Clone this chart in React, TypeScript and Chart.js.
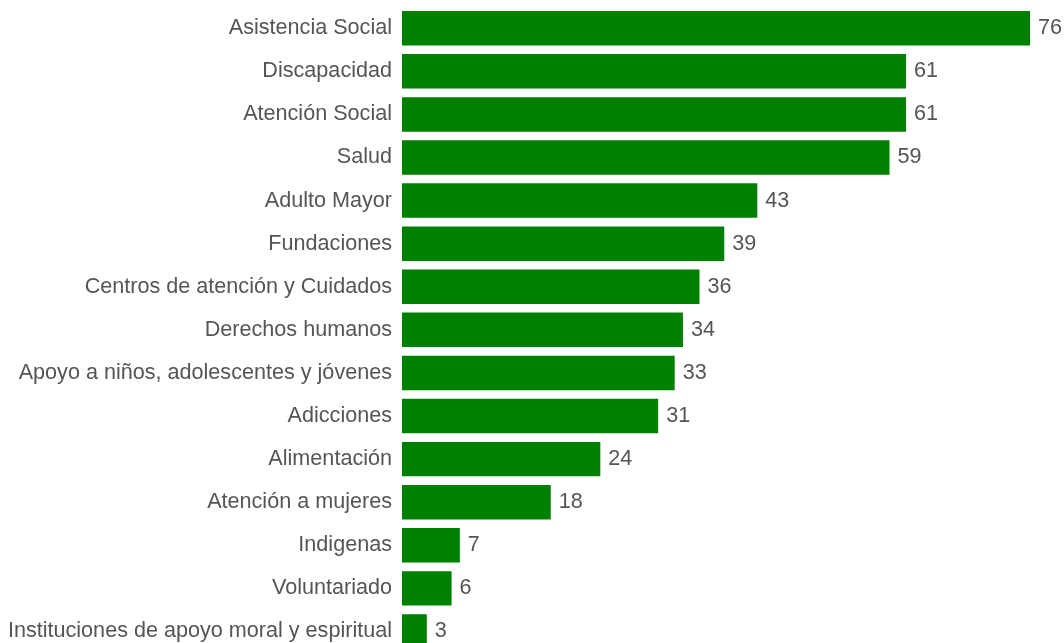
import React, { useEffect, useRef } from "react";
import { Chart, registerables } from "chart.js";

Chart.register(...registerables);

const categories: string[] = [
  "Asistencia Social",
  "Discapacidad",
  "Atención Social",
  "Salud",
  "Adulto Mayor",
  "Fundaciones",
  "Centros de atención y Cuidados",
  "Derechos humanos",
  "Apoyo a niños, adolescentes y jóvenes",
  "Adicciones",
  "Alimentación",
  "Atención a mujeres",
  "Indigenas",
  "Voluntariado",
  "Instituciones de apoyo moral y espiritual",
];

const values: number[] = [76, 61, 61, 59, 43, 39, 36, 34, 33, 31, 24, 18, 7, 6, 3];

const FONT_FAMILY = "'Liberation Sans', Arial, sans-serif";
const FONT_SIZE = 21.6;
const TEXT_COLOR = "#555555";
const BAR_COLOR = "#008000";

const valueLabels = {
  id: "valueLabels",
  afterDatasetsDraw(chart: any) {
    const ctx = chart.ctx;
    const meta = chart.getDatasetMeta(0);
    ctx.save();
    ctx.font = `${FONT_SIZE}px ${FONT_FAMILY}`;
    ctx.fillStyle = TEXT_COLOR;
    ctx.textAlign = "left";
    ctx.textBaseline = "middle";
    meta.data.forEach((bar: any, i: number) => {
      const v = chart.data.datasets[0].data[i];
      ctx.fillText(String(v), bar.x + 8, bar.y);
    });
    ctx.restore();
  },
};

export default function App() {
  const ref = useRef<HTMLCanvasElement | null>(null);

  useEffect(() => {
    if (!ref.current) return;
    const chart = new Chart(ref.current, {
      type: "bar",
      data: {
        labels: categories,
        datasets: [
          {
            data: values,
            backgroundColor: BAR_COLOR,
            borderWidth: 0,
            categoryPercentage: 0.8,
            barPercentage: 1.0,
          },
        ],
      },
      options: {
        indexAxis: "y",
        animation: false,
        responsive: true,
        maintainAspectRatio: false,
        layout: { padding: { top: 6.7, right: 34, left: 0, bottom: 0 } },
        plugins: {
          legend: { display: false },
          tooltip: { enabled: false },
        },
        scales: {
          x: {
            display: false,
            min: 0,
            max: 76,
          },
          y: {
            grid: { display: false, drawTicks: false },
            border: { display: false },
            ticks: {
              padding: 10,
              color: TEXT_COLOR,
              font: { family: FONT_FAMILY, size: FONT_SIZE },
            },
            afterFit(scale: any) {
              scale.width = 402;
              scale.paddingTop = 0;
              scale.paddingBottom = 0;
            },
          },
        },
      },
      plugins: [valueLabels],
    });
    return () => chart.destroy();
  }, []);

  return (
    <div
      style={{
        position: "fixed",
        left: 0,
        top: 0,
        width: 1064,
        height: 643,
        overflow: "hidden",
        background: "#ffffff",
      }}
    >
      <div style={{ position: "relative", width: 1064, height: 653 }}>
        <canvas ref={ref} />
      </div>
    </div>
  );
}
